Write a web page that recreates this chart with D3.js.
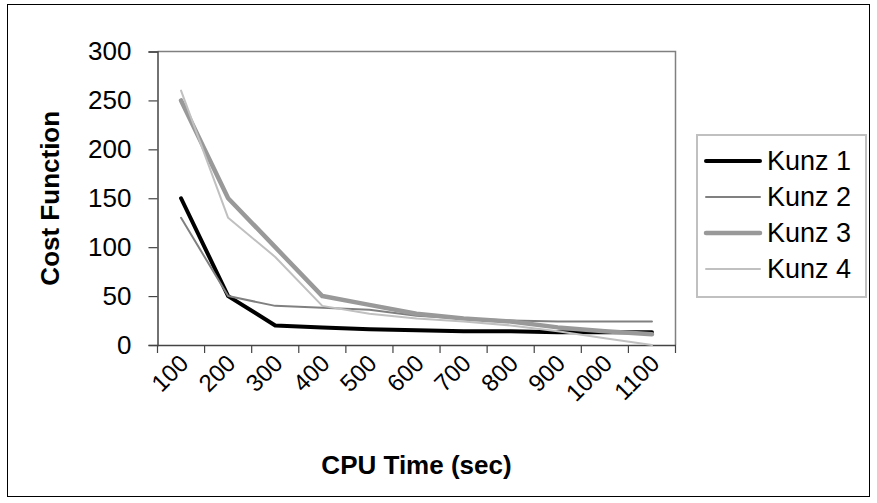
<!DOCTYPE html>
<html><head><meta charset="utf-8">
<script src="https://cdn.jsdelivr.net/npm/d3@7"></script>
<style>body{margin:0;background:#fff}svg text{font-family:"Liberation Sans",Arial,sans-serif}</style>
</head><body><svg id="c" width="877" height="503"></svg>
<script>
const categories = ["100","200","300","400","500","600","700","800","900","1000","1100"];
const kunz1 = [150,50,20,18,16,15,14,14,13,13,13];
const kunz2 = [130,50,40,38,36,30,27,25,24,24,24];
const kunz3 = [250,150,100,50,41,32,27,24,18,14,11];
const kunz4 = [260,130,90,40,32,27,24,20,14,7,0];
const yTicks = [0,50,100,150,200,250,300];
const seriesNames = ["Kunz 1","Kunz 2","Kunz 3","Kunz 4"];
const series = [
  {name: seriesNames[0], values: kunz1, color: "#000000", width: 4},
  {name: seriesNames[1], values: kunz2, color: "#808080", width: 2},
  {name: seriesNames[2], values: kunz3, color: "#999999", width: 4.5},
  {name: seriesNames[3], values: kunz4, color: "#c0c0c0", width: 2}
];

const svg = d3.select("#c");
svg.append("rect").attr("x",7.5).attr("y",4.5).attr("width",862).attr("height",492)
  .attr("fill","#fff").attr("stroke","#000").attr("stroke-width",1);

const L = 157.5, R = 675.5, T = 51.5, B = 345;
const x = d3.scaleBand().domain(categories).range([L, R]);
const y = d3.scaleLinear().domain([0,300]).range([B, T]);

svg.append("path").attr("d",`M${L},${T}H${R}V${B}`).attr("fill","none").attr("stroke","#808080").attr("stroke-width",1.5);

const ya = svg.append("g").attr("transform",`translate(${L},0)`)
  .call(d3.axisLeft(y).tickValues(yTicks).tickSize(9).tickPadding(17).tickFormat(d3.format("d")));
ya.select(".domain").attr("stroke","#444").attr("stroke-width",1.5);
ya.selectAll(".tick line").attr("stroke","#444").attr("stroke-width",1.2);
ya.selectAll("text").attr("font-size",26).attr("fill","#000").attr("font-family","Liberation Sans, Arial, sans-serif");

const xa = svg.append("g").attr("transform",`translate(0,${B})`)
  .call(d3.axisBottom(x).tickSize(0).tickFormat(""));
xa.select(".domain").attr("stroke","#444").attr("stroke-width",1.5);
const edges = categories.map(c => x(c)).concat([R]);
xa.selectAll(".edge").data(edges).enter().append("line")
  .attr("x1",d=>d).attr("x2",d=>d).attr("y1",0).attr("y2",8).attr("stroke","#444").attr("stroke-width",1.2);
xa.selectAll(".xl").data(categories).enter().append("text")
  .attr("transform",d=>`translate(${x(d)+x.bandwidth()/2-3},${8}) rotate(-45)`)
  .attr("text-anchor","end").attr("dy","0.7em").attr("font-size",24).attr("fill","#000")
  .attr("font-family","Liberation Sans, Arial, sans-serif").text(d=>d);

svg.append("text").attr("transform",`translate(59,${(T+B)/2}) rotate(-90)`)
  .attr("text-anchor","middle").attr("font-size",26).attr("font-weight","bold").text("Cost Function");
svg.append("text").attr("x",(L+R)/2).attr("y",474)
  .attr("text-anchor","middle").attr("font-size",26).attr("font-weight","bold").text("CPU Time (sec)");

const line = d3.line().x((d,i)=>x(categories[i])+x.bandwidth()/2).y(d=>y(d));
svg.selectAll(".series").data(series).enter().append("path")
  .attr("d",d=>line(d.values)).attr("fill","none")
  .attr("stroke",d=>d.color).attr("stroke-width",d=>d.width)
  .attr("stroke-linejoin","round").attr("stroke-linecap","round");

const lg = svg.append("g");
lg.append("rect").attr("x",697).attr("y",135).attr("width",169).attr("height",162)
  .attr("fill","#fff").attr("stroke","#c0c0c0").attr("stroke-width",2);
series.forEach((s,i)=>{
  const yy = 161 + i*36;
  lg.append("line").attr("x1",706).attr("x2",760).attr("y1",yy).attr("y2",yy)
    .attr("stroke",s.color).attr("stroke-width",s.width).attr("stroke-linecap","round");
  lg.append("text").attr("x",767).attr("y",yy).attr("dy","0.35em").attr("font-size",27).text(s.name);
});
</script></body></html>
